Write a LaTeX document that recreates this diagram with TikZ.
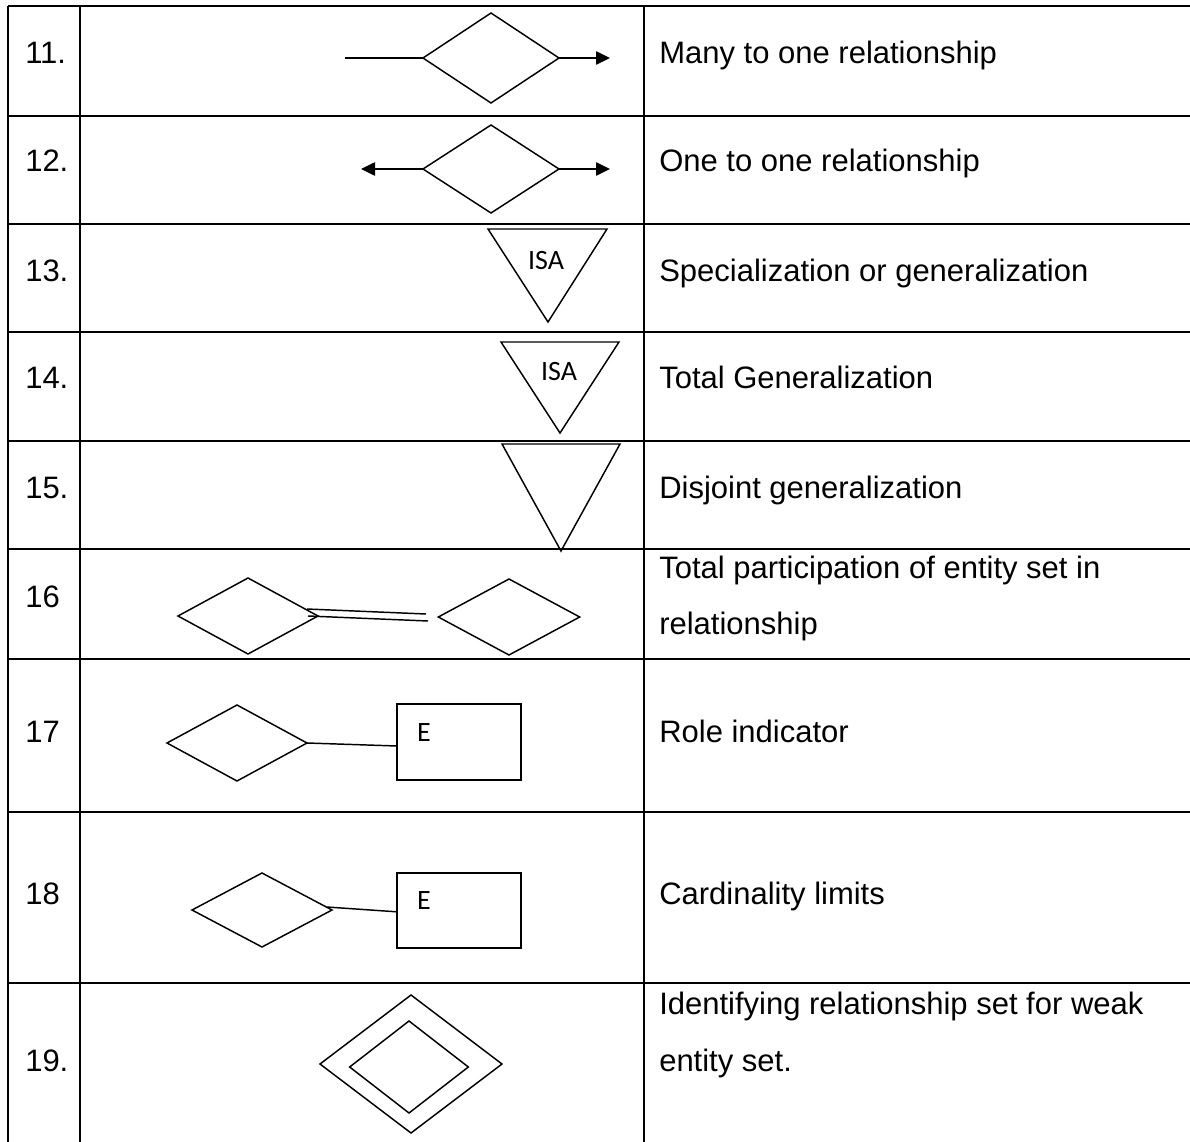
\documentclass[tikz,border=0pt]{standalone}
\usepackage{fontspec}
\setmainfont{Liberation Sans}
\newfontfamily\symfont{Carlito}
\usetikzlibrary{shapes.geometric,arrows.meta}
\begin{document}
\begin{tikzpicture}[x=0.75pt,y=-0.75pt,
  rule/.style={line width=1.5pt},
  shp/.style={line width=1.1pt},
  rel/.style={shape=diamond,draw,shp,inner sep=0pt,outer sep=0pt},
  ent/.style={rectangle,draw,shp,inner sep=0pt,outer sep=0pt},
  txt/.style={anchor=base west,inner sep=0pt,font=\fontsize{23.25pt}{28pt}\selectfont},
  sym/.style={inner sep=0pt,font=\symfont\fontsize{21pt}{24pt}\selectfont},
  tip/.style={-{Triangle[length=10.5pt,width=10pt]}}
]
\useasboundingbox (0,0) rectangle (1190,1142);

% table rules
\foreach \y in {6,116,224,332,441,549,659,812,983}
  \draw[rule] (8,\y) -- (1190,\y);
\foreach \x in {8,80,644}
  \draw[rule] (\x,6) -- (\x,1142);

% row numbers
\node[txt] (n11) at (25,63) {11.};
\node[txt] (n12) at (25,171) {12.};
\node[txt] (n13) at (25,281) {13.};
\node[txt] (n14) at (25,388) {14.};
\node[txt] (n15) at (25,498) {15.};
\node[txt] (n16) at (25,607) {16};
\node[txt] (n17) at (25,742) {17};
\node[txt] (n18) at (25,904) {18};
\node[txt] (n19) at (25,1071) {19.};

% descriptions
\node[txt] (t11) at (659,63) {Many to one relationship};
\node[txt] (t12) at (659,171) {One to one relationship};
\node[txt] (t13) at (659,281) {Specialization or generalization};
\node[txt] (t14) at (659,388) {Total Generalization};
\node[txt] (t15) at (659,498) {Disjoint generalization};
\node[txt] (t16a) at (659,578) {Total participation of entity set in};
\node[txt] (t16b) at (659,634) {relationship};
\node[txt] (t17) at (659,742) {Role indicator};
\node[txt] (t18) at (659,904) {Cardinality limits};
\node[txt] (t19a) at (659,1014) {Identifying relationship set for weak};
\node[txt] (t19b) at (659,1071) {entity set.};

% 11: many to one
\node[rel,minimum width=102pt,minimum height=67.5pt] (d11) at (491,58) {};
\coordinate (l11) at (345,58);
\coordinate (r11) at (610,58);
\draw[shp] (l11) -- (d11.west);
\draw[shp,tip] (d11.east) -- (r11);

% 12: one to one
\node[rel,minimum width=102pt,minimum height=66pt] (d12) at (491,169) {};
\coordinate (l12) at (361,169);
\coordinate (r12) at (610,169);
\draw[shp,tip] (d12.west) -- (l12);
\draw[shp,tip] (d12.east) -- (r12);

% 13: specialization triangle
\draw[shp] (488,229) -- (607,229) -- (548,322) -- cycle;
\node[sym] (isa13) at (546,261) {ISA};

% 14: total generalization triangle
\draw[shp] (501,342) -- (619,342) -- (560,433) -- cycle;
\node[sym] (isa14) at (559,372) {ISA};

% 15: disjoint generalization triangle
\draw[shp] (502,444) -- (620,444) -- (561,551) -- cycle;

% 16: total participation
\node[rel,minimum width=105pt,minimum height=57pt] (d16a) at (248,616) {};
\node[rel,minimum width=106pt,minimum height=57pt] (d16b) at (509,617) {};
\coordinate (p16a) at (307,609);
\coordinate (q16a) at (426,614);
\coordinate (p16b) at (308,616);
\coordinate (q16b) at (428,621);
\draw[shp] (p16a) -- (q16a);
\draw[shp] (p16b) -- (q16b);

% 17: role indicator
\node[rel,minimum width=105pt,minimum height=57pt] (d17) at (237,743) {};
\node[ent,minimum width=93pt,minimum height=57pt] (e17) at (459,742) {};
\node[sym] (l17) at (424,733) {E};
\draw[shp] (d17.east) -- ([yshift=-3pt]e17.west);

% 18: cardinality limits
\node[rel,minimum width=105pt,minimum height=55.5pt] (d18) at (262,910) {};
\node[ent,minimum width=93pt,minimum height=56pt] (e18) at (459,910.5) {};
\node[sym] (l18) at (424,901) {E};
\coordinate (s18) at (327,907);
\draw[shp] (s18) -- ([yshift=-1pt]e18.west);

% 19: identifying relationship
\node[rel,minimum width=136.5pt,minimum height=103.5pt] (d19o) at (411,1064) {};
\node[rel,minimum width=89pt,minimum height=69pt] (d19i) at (409,1067) {};
\end{tikzpicture}
\end{document}
